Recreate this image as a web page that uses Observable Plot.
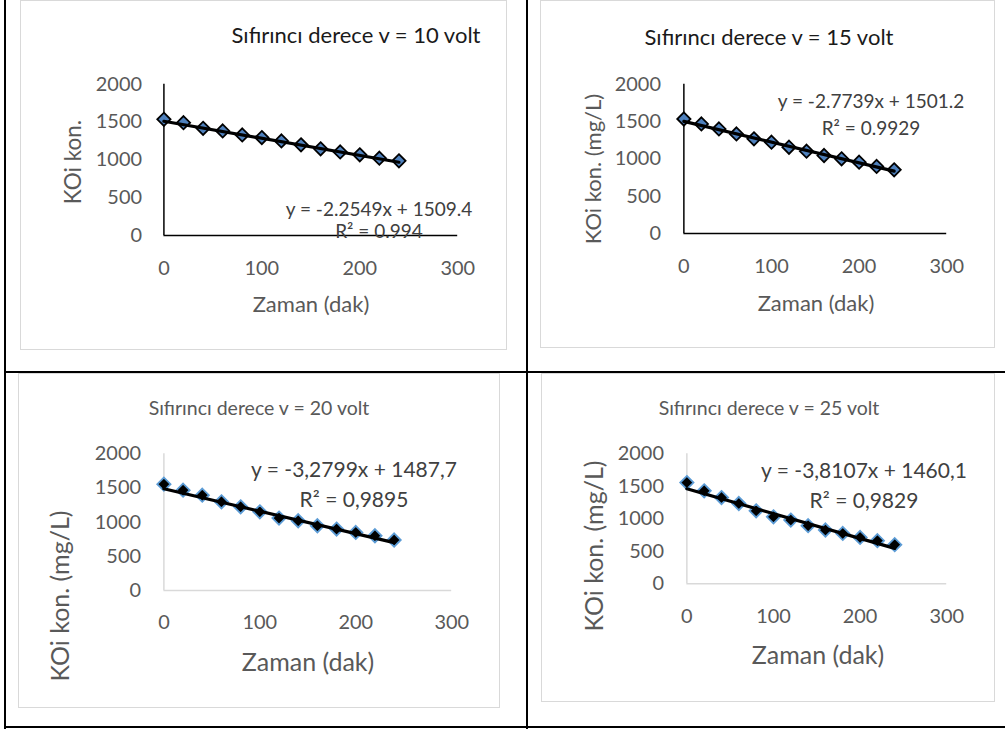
<!DOCTYPE html>
<html>
<head>
<meta charset="utf-8">
<script src="https://cdn.jsdelivr.net/npm/d3@7"></script>
<script src="https://cdn.jsdelivr.net/npm/@observablehq/plot@0.6"></script>
<style>
  html, body { margin: 0; padding: 0; background: #fff; }
  #root { position: relative; width: 1005px; height: 729px; overflow: hidden; background: #fff; font-family: Lato, "Open Sans", sans-serif; }
  .bline { position: absolute; background: #000; }
  .panel { position: absolute; box-sizing: border-box; border: 1.5px solid #d9d9d9; background: #fff; }
  .plot { position: absolute; left: 0; top: 0; }
  .txt { position: absolute; white-space: nowrap; line-height: 1; transform: translate(-50%, -50%); }
  .rot { transform: translate(-50%, -50%) rotate(-90deg); }
</style>
</head>
<body>
<div id="root"></div>
<script>
// ---- data ----
const times = [0, 20, 40, 60, 80, 100, 120, 140, 160, 180, 200, 220, 240];
const koi10 = [1536, 1491, 1417, 1382, 1329, 1294, 1250, 1198, 1145, 1105, 1066, 1022, 987];
const koi15 = [1533, 1467, 1400, 1333, 1267, 1222, 1155, 1102, 1044, 1000, 955, 898, 853];
const koi20 = [1554, 1467, 1394, 1297, 1224, 1151, 1059, 1020, 947, 899, 850, 801, 739];
const koi25 = [1556, 1429, 1326, 1234, 1122, 1030, 980, 893, 827, 775, 713, 663, 602];
const slopes = [-2.2549, -2.7739, -3.2799, -3.8107];
const intercepts = [1509.4, 1501.2, 1487.7, 1460.1];
const titles = ["Sıfırıncı derece v = 10 volt", "Sıfırıncı derece v = 15 volt", "Sıfırıncı derece v = 20 volt", "Sıfırıncı derece v = 25 volt"];
const equations = ["y = -2.2549x + 1509.4", "y = -2.7739x + 1501.2", "y = -3,2799x + 1487,7", "y = -3,8107x + 1460,1"];
const r2labels = ["R² = 0.994", "R² = 0.9929", "R² = 0,9895", "R² = 0,9829"];
const yLabels = ["KOi kon.", "KOi kon. (mg/L)", "KOi kon. (mg/L)", "KOi kon. (mg/L)"];
const xLabel = "Zaman (dak)";
const xTicks = [0, 100, 200, 300];
const yTicks = [0, 500, 1000, 1500, 2000];
const series = [koi10, koi15, koi20, koi25];

// ---- layout ----
const root = document.getElementById("root");
function line(l, t, w, h) {
  const d = document.createElement("div");
  d.className = "bline";
  Object.assign(d.style, {left: l + "px", top: t + "px", width: w + "px", height: h + "px"});
  root.appendChild(d);
}
line(4, 0, 2, 729);
line(526, 0, 2, 729);
line(4, 371, 1001, 2);
line(4, 726, 1001, 2);

const panels = [
  {left: 20, top: 0, w: 487, h: 350, ml: 143, mr: 49, mt: 83, mb: 115, padX: 25, padY: 22,
   axisColor: "#000", fill: "#4f81bd", stroke: "#000", titleColor: "#1a1a1a", titleSize: 22,
   title: [335, 34], eq: [358, 207], r2: [358, 229], eqSize: 19, ylab: [52, 161], xlab: [290, 303], xlabSize: 22, ylabSize: 22.5},
  {left: 540, top: 0, w: 455, h: 348, ml: 143, mr: 48, mt: 83, mb: 115, padX: 25, padY: 23,
   axisColor: "#000", fill: "#4f81bd", stroke: "#000", titleColor: "#1a1a1a", titleSize: 22,
   title: [228, 36], eq: [330, 99], r2: [330, 126], eqSize: 19, ylab: [52, 168], xlab: [275, 302], xlabSize: 22, ylabSize: 22},
  {left: 18, top: 373, w: 482, h: 335, ml: 145, mr: 48, mt: 79.5, mb: 118, padX: 24, padY: 23,
   axisColor: "#d9d9d9", fill: "#000", stroke: "#5b9bd5", titleColor: "#595959", titleSize: 19.5,
   title: [240, 34], eq: [335, 94], r2: [335, 124], eqSize: 21, ylab: [40, 222], xlab: [289, 287], xlabSize: 25, ylabSize: 25},
  {left: 541, top: 373, w: 454, h: 329, ml: 145, mr: 48, mt: 79.5, mb: 118.7, padX: 25, padY: 23,
   axisColor: "#d9d9d9", fill: "#000", stroke: "#5b9bd5", titleColor: "#595959", titleSize: 19.5,
   title: [227, 34], eq: [322, 95], r2: [322, 125], eqSize: 21, ylab: [51, 172], xlab: [276, 280], xlabSize: 25, ylabSize: 25}
];

function addText(parent, text, pos, size, color, rot) {
  const d = document.createElement("div");
  d.className = "txt" + (rot ? " rot" : "");
  d.textContent = text;
  Object.assign(d.style, {left: pos[0] + "px", top: pos[1] + "px", fontSize: size + "px", color});
  parent.appendChild(d);
}

panels.forEach((p, i) => {
  const box = document.createElement("div");
  box.className = "panel";
  Object.assign(box.style, {left: p.left + "px", top: p.top + "px", width: p.w + "px", height: p.h + "px"});
  root.appendChild(box);

  const data = times.map((t, k) => ({t, v: series[i][k]}));
  const trend = [times[0], times[times.length - 1]].map(t => ({t, v: intercepts[i] + slopes[i] * t}));

  const chart = Plot.plot({
    width: p.w, height: p.h,
    marginLeft: p.ml, marginRight: p.mr, marginTop: p.mt, marginBottom: p.mb,
    style: {fontFamily: "Lato, 'Open Sans', sans-serif", fontSize: "20px", color: "#595959", background: "transparent", overflow: "visible"},
    x: {domain: [0, 300], ticks: xTicks, tickSize: 0, tickPadding: p.padX, tickFormat: d => String(d), label: null},
    y: {domain: [0, 2000], ticks: yTicks, tickSize: 0, tickPadding: p.padY, tickFormat: d => String(d), label: null},
    marks: [
      Plot.ruleY([0], {stroke: p.axisColor, strokeWidth: 1.5}),
      Plot.ruleX([0], {stroke: p.axisColor, strokeWidth: 1.5}),
      Plot.dot(data, {x: "t", y: "v", symbol: "diamond2", r: 6, fill: p.fill, stroke: p.stroke, strokeWidth: 1.8}),
      Plot.line(trend, {x: "t", y: "v", stroke: "#000", strokeWidth: 3.2})
    ]
  });
  chart.classList.add("plot");
  box.appendChild(chart);

  addText(box, titles[i], p.title, p.titleSize, p.titleColor);
  addText(box, equations[i], p.eq, p.eqSize, "#404040");
  addText(box, r2labels[i], p.r2, p.eqSize, "#404040");
  addText(box, yLabels[i], p.ylab, p.ylabSize, "#595959", true);
  addText(box, xLabel, p.xlab, p.xlabSize, "#595959");
});
</script>
</body>
</html>
